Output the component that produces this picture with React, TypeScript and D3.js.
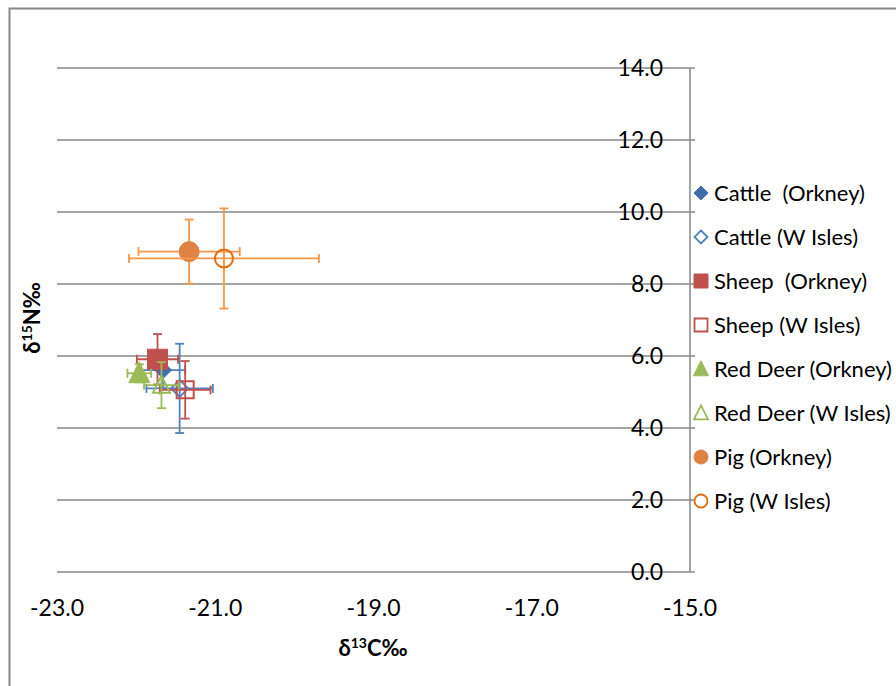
import React from "react";
import * as d3 from "d3";

const seriesNames = [
  "Cattle  (Orkney)",
  "Cattle (W Isles)",
  "Sheep  (Orkney)",
  "Sheep (W Isles)",
  "Red Deer (Orkney)",
  "Red Deer (W Isles)",
  "Pig (Orkney)",
  "Pig (W Isles)",
];
const d13C = [-21.66, -21.45, -21.73, -21.38, -21.96, -21.68, -21.33, -20.89];
const d15N = [5.61, 5.10, 5.91, 5.06, 5.52, 5.19, 8.90, 8.71];
const d13CErr = [0.28, 0.42, 0.26, 0.32, 0.15, 0.22, 0.64, 1.20];
const d15NErr = [0.5, 1.24, 0.70, 0.80, 0.25, 0.64, 0.89, 1.39];
const shapes = ["diamond", "diamond", "square", "square", "triangle", "triangle", "circle", "circle"];
const filled = [true, false, true, false, true, false, true, false];
const markerColors = ["#3F6FAB", "#4F81BD", "#C0504D", "#C0504D", "#9BBB59", "#9BBB59", "#DE8344", "#E46C0A"];
const errColors = ["#4F81BD", "#4F81BD", "#C0504D", "#C0504D", "#9BBB59", "#9BBB59", "#F79646", "#F79646"];

const xTicks = [-23, -21, -19, -17, -15];
const yTicks = [0, 2, 4, 6, 8, 10, 12, 14];

const FONT = "Lato, 'Open Sans', sans-serif";

function shapePath(shape: string, r: number): string {
  if (shape === "diamond") return `M0,${-r}L${r},0L0,${r}L${-r},0Z`;
  if (shape === "square") return `M${-r},${-r}H${r}V${r}H${-r}Z`;
  if (shape === "triangle") {
    const h = r * 2;
    return `M0,${-h * 0.55}L${r},${h * 0.45}L${-r},${h * 0.45}Z`;
  }
  return d3.symbol(d3.symbolCircle, Math.PI * r * r)() as string;
}

export default function App() {
  const W = 896;
  const H = 686;
  const x = d3.scaleLinear().domain([-23, -15]).range([57, 690]);
  const y = d3.scaleLinear().domain([0, 14]).range([572, 68]);
  const grid = "#878787";
  const markerR = [8.5, 8.5, 10, 8.5, 10.5, 8.5, 10, 9];
  const legendR = [7, 6.5, 7, 6.5, 7.5, 7, 7, 6.5];
  const legendY0 = 193;
  const legendDy = 44;
  const cap = 4.5;

  return (
    <svg width={W} height={H} style={{ position: "absolute", left: 0, top: 0, background: "#fff" }}>
      <rect x={9.5} y={8.5} width={W + 10} height={H + 10} fill="#fff" stroke="#888" strokeWidth={2} />
      {yTicks.map((t) => (
        <line key={"g" + t} x1={x(-23)} x2={x(-15)} y1={y(t)} y2={y(t)} stroke={grid} strokeWidth={1.5} />
      ))}
      <line x1={x(-15)} x2={x(-15)} y1={y(14)} y2={y(0)} stroke={grid} strokeWidth={1.5} />
      {yTicks.map((t) => (
        <line key={"t" + t} x1={x(-15)} x2={x(-15) + 5} y1={y(t)} y2={y(t)} stroke={grid} strokeWidth={1.5} />
      ))}
      {yTicks.map((t) => (
        <text key={"yl" + t} x={663} y={y(t)} dy="0.36em" textAnchor="end" fontFamily={FONT} fontSize={23} fill="#000">
          {t.toFixed(1)}
        </text>
      ))}
      {xTicks.map((t) => (
        <text key={"xl" + t} x={x(t)} y={608} dy="0.36em" textAnchor="middle" fontFamily={FONT} fontSize={23} fill="#000">
          {t.toFixed(1)}
        </text>
      ))}
      <text x={373} y={648} dy="0.36em" textAnchor="middle" fontFamily={FONT} fontSize={22} fontWeight="bold">
        δ<tspan fontSize={14} dy="-0.55em">13</tspan>
        <tspan dy="0.35em">C‰</tspan>
      </text>
      <text transform="translate(32,318) rotate(-90)" dy="0.36em" textAnchor="middle" fontFamily={FONT} fontSize={22} fontWeight="bold">
        δ<tspan fontSize={14} dy="-0.55em">15</tspan>
        <tspan dy="0.35em">N‰</tspan>
      </text>
      {seriesNames.map((name, i) => {
        const cx = x(d13C[i]);
        const cy = y(d15N[i]);
        const x0 = x(d13C[i] - d13CErr[i]);
        const x1 = x(d13C[i] + d13CErr[i]);
        const y0 = y(d15N[i] - d15NErr[i]);
        const y1 = y(d15N[i] + d15NErr[i]);
        const ec = errColors[i];
        return (
          <g key={name}>
            <g stroke={ec} strokeWidth={1.8} fill="none">
              <line x1={x0} x2={x1} y1={cy} y2={cy} />
              <line x1={x0} x2={x0} y1={cy - cap} y2={cy + cap} />
              <line x1={x1} x2={x1} y1={cy - cap} y2={cy + cap} />
              <line x1={cx} x2={cx} y1={y0} y2={y1} />
              <line x1={cx - cap} x2={cx + cap} y1={y0} y2={y0} />
              <line x1={cx - cap} x2={cx + cap} y1={y1} y2={y1} />
            </g>
            <path
              d={shapePath(shapes[i], markerR[i])}
              transform={`translate(${cx},${cy})`}
              fill={filled[i] ? markerColors[i] : "none"}
              stroke={markerColors[i]}
              strokeWidth={filled[i] ? 1 : 2}
            />
          </g>
        );
      })}
      {seriesNames.map((name, i) => {
        const ly = legendY0 + i * legendDy;
        return (
          <g key={"leg" + i}>
            <path
              d={shapePath(shapes[i], legendR[i])}
              transform={`translate(701,${ly})`}
              fill={filled[i] ? markerColors[i] : "none"}
              stroke={markerColors[i]}
              strokeWidth={filled[i] ? 1 : 1.8}
            />
            <text x={714} y={ly} dy="0.36em" fontFamily={FONT} fontSize={22} fill="#000" style={{ whiteSpace: "pre" }}>
              {name}
            </text>
          </g>
        );
      })}
    </svg>
  );
}
